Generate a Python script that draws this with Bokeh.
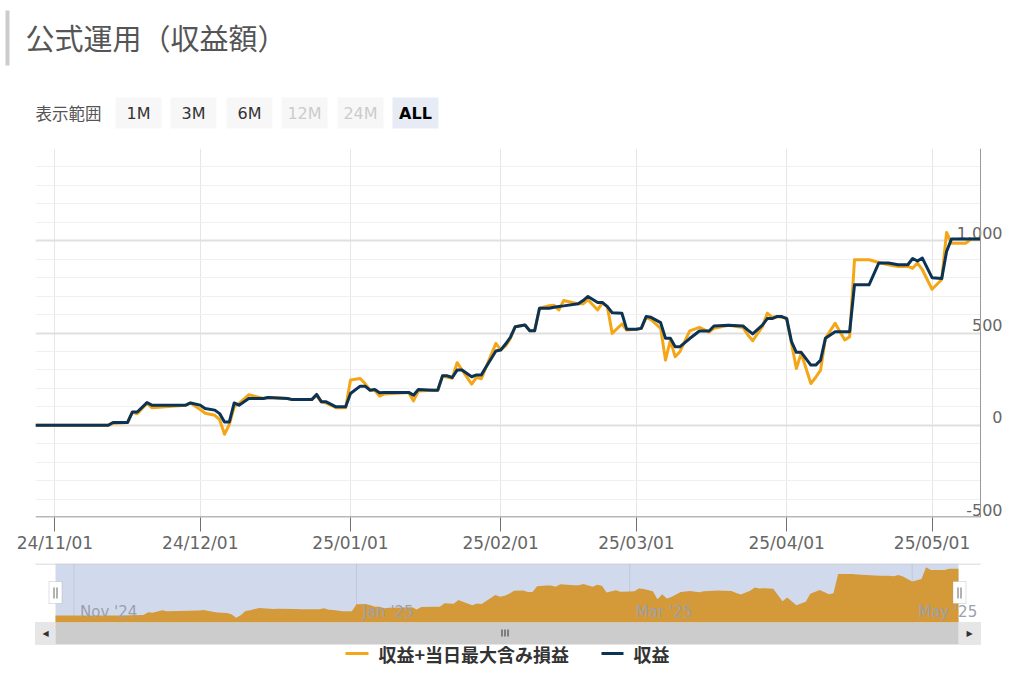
import pandas as pd
from bokeh.plotting import figure
from bokeh.models import (Range1d, FixedTicker, DatetimeTickFormatter, Label, BoxAnnotation)
from bokeh.layouts import column
from bokeh.embed import file_html
from bokeh.resources import INLINE

# ---------------- data ----------------
dates = [
    "2024-10-28", "2024-11-12", "2024-11-13", "2024-11-16", "2024-11-17", "2024-11-18",
    "2024-11-20", "2024-11-21", "2024-11-28", "2024-11-29", "2024-12-01", "2024-12-02",
    "2024-12-04", "2024-12-05", "2024-12-06", "2024-12-07", "2024-12-08", "2024-12-09",
    "2024-12-11", "2024-12-14", "2024-12-15", "2024-12-19", "2024-12-20", "2024-12-24",
    "2024-12-25", "2024-12-26", "2024-12-27", "2024-12-29", "2024-12-31", "2025-01-01",
    "2025-01-03", "2025-01-04", "2025-01-05", "2025-01-06", "2025-01-07", "2025-01-08",
    "2025-01-13", "2025-01-14", "2025-01-15", "2025-01-18", "2025-01-19", "2025-01-20",
    "2025-01-21", "2025-01-22", "2025-01-23", "2025-01-24", "2025-01-26", "2025-01-27",
    "2025-01-28", "2025-01-29", "2025-01-31", "2025-02-01", "2025-02-02", "2025-02-03",
    "2025-02-04", "2025-02-06", "2025-02-07", "2025-02-08", "2025-02-09", "2025-02-11",
    "2025-02-12", "2025-02-13", "2025-02-14", "2025-02-17", "2025-02-18", "2025-02-19",
    "2025-02-21", "2025-02-22", "2025-02-23", "2025-02-24", "2025-02-26", "2025-02-27",
    "2025-03-01", "2025-03-02", "2025-03-03", "2025-03-04", "2025-03-06", "2025-03-07",
    "2025-03-08", "2025-03-09", "2025-03-10", "2025-03-12", "2025-03-14", "2025-03-16",
    "2025-03-17", "2025-03-20", "2025-03-23", "2025-03-24", "2025-03-25", "2025-03-27",
    "2025-03-28", "2025-03-29", "2025-03-30", "2025-03-31", "2025-04-01", "2025-04-02",
    "2025-04-03", "2025-04-04", "2025-04-06", "2025-04-07", "2025-04-08", "2025-04-09",
    "2025-04-11", "2025-04-12", "2025-04-13", "2025-04-14", "2025-04-15", "2025-04-18",
    "2025-04-20", "2025-04-22", "2025-04-24", "2025-04-26", "2025-04-27", "2025-04-28",
    "2025-04-29", "2025-05-01", "2025-05-03", "2025-05-04", "2025-05-05", "2025-05-08",
    "2025-05-09", "2025-05-11",
]
# 収益+当日最大含み損益 (orange)
profit_max = [
    0, 0, 10, 15, 70, 62,
    118, 95, 109, 121, 85, 65,
    54, 30, -49, 5, 100, 118,
    165, 145, 150, 145, 139, 139,
    160, 127, 120, 95, 95, 245,
    253, 226, 190, 190, 158, 170,
    178, 132, 185, 190, 190, 268,
    260, 255, 339, 300, 223, 260,
    252, 317, 444, 408, 430, 470,
    534, 543, 512, 512, 634, 648,
    650, 625, 676, 658, 658, 680,
    625, 665, 643, 498, 549, 516,
    520, 525, 585, 572, 525, 353,
    460, 371, 400, 511, 531, 505,
    525, 542, 530, 489, 458, 534,
    607, 585, 589, 585, 580, 444,
    308, 390, 226, 260, 299, 471,
    553, 507, 462, 480, 897, 897,
    882, 870, 860, 861, 851, 879,
    843, 737, 790, 1045, 987, 987,
    1009, 1009,
]
# 収益 (navy)
profit = [
    0, 0, 15, 15, 72, 72,
    123, 109, 109, 121, 109, 91,
    82, 63, 18, 18, 121, 109,
    145, 145, 150, 145, 139, 139,
    167, 127, 127, 100, 100, 172,
    212, 212, 190, 194, 176, 178,
    178, 163, 194, 190, 190, 268,
    268, 259, 299, 299, 263, 273,
    273, 317, 402, 408, 440, 477,
    534, 543, 512, 512, 634, 634,
    640, 644, 647, 658, 676, 698,
    665, 665, 643, 610, 607, 520,
    520, 525, 589, 585, 556, 471,
    471, 426, 426, 470, 511, 511,
    538, 542, 538, 516, 495, 543,
    578, 578, 589, 589, 578, 453,
    395, 395, 326, 326, 353, 471,
    507, 507, 507, 507, 761, 761,
    879, 879, 870, 870, 904, 890,
    906, 800, 795, 942, 1009, 1009,
    1009, 1009,
]
series_names = ["収益+当日最大含み損益", "収益"]
x_tick_dates = ["2024-11-01", "2024-12-01", "2025-01-01", "2025-02-01",
                "2025-03-01", "2025-04-01", "2025-05-01"]
y_ticks = [-500, 0, 500, 1000]
y_tick_labels = ["-500", "0", "500", "1,000"]
y_minor = [-400, -300, -200, -100, 100, 200, 300, 400, 600, 700, 800, 900,
           1100, 1200, 1300, 1400, 1500]
nav_tick_dates = ["2024-11-01", "2025-01-01", "2025-03-01", "2025-05-01"]
nav_tick_labels = ["Nov '24", "Jan '25", "Mar '25", "May '25"]
title_text = "公式運用（収益額）"
range_label = "表示範囲"
range_buttons = ["1M", "3M", "6M", "12M", "24M", "ALL"]
button_state = ["on", "on", "on", "off", "off", "sel"]

# ---------------- style ----------------
JP = "Noto Sans CJK JP"
LAT = "DejaVu Sans"
ORANGE = "#f5a616"
NAVY = "#0b3356"
NAV_FILL = "#d49a3a"
W = 1004


def to_ms(strs):
    idx = pd.to_datetime(strs)
    return [int((t - pd.Timestamp("1970-01-01")) // pd.Timedelta(milliseconds=1)) for t in idx]


xs = to_ms(dates)
x_ticks = to_ms(x_tick_dates)
nav_ticks = to_ms(nav_tick_dates)


def sbox(fig, l, r, b, t, fill, line=None, level="annotation"):
    fig.add_layout(BoxAnnotation(left=l, right=r, bottom=b, top=t,
                                 left_units="screen", right_units="screen",
                                 bottom_units="screen", top_units="screen",
                                 fill_color=fill, fill_alpha=1.0,
                                 line_color=line, line_width=1, level=level))


def slabel(fig, x, y, text, size, color, font=LAT, bold=False, align="left",
           xu="screen", yu="screen", **kw):
    fig.add_layout(Label(x=x, y=y, x_units=xu, y_units=yu, text=text,
                         text_font=font, text_font_size=size, text_color=color,
                         text_font_style="bold" if bold else "normal",
                         text_align=align, text_baseline="middle", **kw))


def base_fig(**kw):
    f = figure(output_backend="svg", toolbar_location=None, frame_align=False,
               outline_line_color=None, background_fill_color="white",
               border_fill_color="white", **kw)
    return f


# ---------------- header (title + range selector) ----------------
H_HEAD = 148
ph = base_fig(width=W, height=H_HEAD, x_range=Range1d(0, W), y_range=Range1d(0, H_HEAD),
              x_axis_location=None, y_axis_location=None,
              min_border_left=0, min_border_right=0, min_border_top=0, min_border_bottom=0)
ph.xgrid.visible = False
ph.ygrid.visible = False
# screen coords: sx = page x, sy = 148 - page y
sbox(ph, 5, 9, H_HEAD - 65, H_HEAD - 10, "#cccccc")
slabel(ph, 25, H_HEAD - 36, title_text, "29px", "#555555", font=JP)
slabel(ph, 35, H_HEAD - 112, range_label, "16.5px", "#555555", font=JP)
btn_left = [115, 170, 226, 281, 337, 392]
for bl, txt, st in zip(btn_left, range_buttons, button_state):
    fill = "#e6ebf5" if st == "sel" else "#f7f7f7"
    sbox(ph, bl, bl + 46, H_HEAD - 128, H_HEAD - 97, fill)
    col = {"on": "#333333", "off": "#cccccc", "sel": "#000000"}[st]
    slabel(ph, bl + 23, H_HEAD - 112.5, txt, "16px", col, bold=(st == "sel"), align="center")

# ---------------- main chart ----------------
# frame: page x 35..1004, y 148..517 ; data end sits at page x 980
data_px = 945.0
span = xs[-1] - xs[0]
p = base_fig(width=W, height=415, x_axis_type="datetime",
             x_range=Range1d(xs[0], xs[-1] + span * 24.0 / data_px),
             y_range=Range1d(-500, 1500), y_axis_location=None,
             min_border_left=35, min_border_right=0, min_border_top=0, min_border_bottom=46)

p.xaxis.ticker = FixedTicker(ticks=x_ticks)
fmt = "%y/%m/%d"
p.xaxis.formatter = DatetimeTickFormatter(years=fmt, months=fmt, days=fmt, hours=fmt,
                                          minutes=fmt, hourmin=fmt, seconds=fmt,
                                          milliseconds=fmt, microseconds=fmt, minsec=fmt)
p.xaxis.axis_line_color = None
p.xaxis.major_tick_line_color = "#707070"
p.xaxis.major_tick_out = 14
p.xaxis.major_tick_in = 0
p.xaxis.minor_tick_line_color = None
p.xaxis.major_label_text_font = LAT
p.xaxis.major_label_text_font_size = "17px"
p.xaxis.major_label_text_color = "#666666"
p.xaxis.major_label_standoff = 1

p.xgrid.ticker = FixedTicker(ticks=x_ticks)
p.xgrid.grid_line_color = "#e6e6e6"
p.ygrid.ticker = FixedTicker(ticks=y_ticks, minor_ticks=y_minor)
p.ygrid.grid_line_color = "#e0e0e0"
p.ygrid.grid_line_width = 2
p.ygrid.minor_grid_line_color = "#f0f0f0"

# white area to the right of the data end (gridlines stop at the axis line)
sbox(p, data_px, 969, 0, 369, "#ffffff", level="underlay")
for v, t in zip(y_ticks, y_tick_labels):
    slabel(p, 967, v, t, "16px", "#666666", align="right", yu="data", y_offset=8, level="underlay")

p.line(xs, profit_max, line_color=ORANGE, line_width=3, line_join="round")
p.line(xs, profit, line_color=NAVY, line_width=3, line_join="round")

# axis lines: bottom (x axis) and right (y axis)
sbox(p, 0, data_px, 0, 1, "#707070")
sbox(p, data_px - 0.5, data_px + 0.5, 0, 369, "#999999")

# ---------------- navigator + scrollbar + legend ----------------
H_NAV = 127
nav_lo = min(profit_max) - 100
nav_hi = max(profit_max) + 80
upp = (nav_hi - nav_lo) / 59.0
ppm = 903.0 / span
pn = base_fig(width=W, height=H_NAV, x_axis_type="datetime",
              x_range=Range1d(xs[0] - 55 / ppm, xs[-1] + (W - 958) / ppm),
              y_range=Range1d(nav_hi - H_NAV * upp, nav_hi),
              x_axis_location=None, y_axis_location=None,
              min_border_left=0, min_border_right=0, min_border_top=0, min_border_bottom=0)
pn.xgrid.visible = False
pn.ygrid.visible = False
# screen coords: sx = page x, sy = 690 - page y
pn.add_layout(BoxAnnotation(left=xs[0], right=xs[-1], bottom=nav_lo, top=nav_hi,
                            fill_color="#6685c2", fill_alpha=0.3, line_color=None, level="underlay"))
pn.segment(x0=nav_ticks, y0=[nav_lo] * len(nav_ticks), x1=nav_ticks, y1=[nav_hi] * len(nav_ticks),
           line_color="#c0c9db", line_width=1)
pn.varea(x=xs, y1=nav_lo, y2=profit_max, fill_color=NAV_FILL)
for t, lab in zip(nav_ticks, nav_tick_labels):
    slabel(pn, t, 690 - 611.5, lab, "15px", "#9aa0ae", xu="data", x_offset=6)

sbox(pn, 35, 980, 126, 127, "#cccccc")
# scrollbar
sbox(pn, 55, 958, 46, 68, "#cccccc")
sbox(pn, 35, 55, 46, 68, "#e6e6e6", line="#cccccc")
sbox(pn, 958, 980, 46, 68, "#e6e6e6", line="#cccccc")
slabel(pn, 45, 57, "◀", "8px", "#333333", align="center")
slabel(pn, 969, 57, "▶", "8px", "#333333", align="center")
for gx in (501, 504, 507):
    sbox(pn, gx, gx + 1, 54, 61, "#333333")
# handles
for hl in (48.5, 952.5):
    sbox(pn, hl, hl + 13, 87, 109, "#ffffff", line="#999999")
    sbox(pn, hl + 4.5, hl + 5.5, 92, 103, "#666666")
    sbox(pn, hl + 7.5, hl + 8.5, 92, 103, "#666666")

# legend
sbox(pn, 345, 368, 35.5, 38.5, ORANGE)
slabel(pn, 378, 37, series_names[0], "18px", "#333333", font=JP, bold=True)
sbox(pn, 601, 623, 35.5, 38.5, NAVY)
slabel(pn, 633, 37, series_names[1], "18px", "#333333", font=JP, bold=True)

layout = column(ph, p, pn, spacing=0)
open("out.html", "w").write(file_html(layout, INLINE))
